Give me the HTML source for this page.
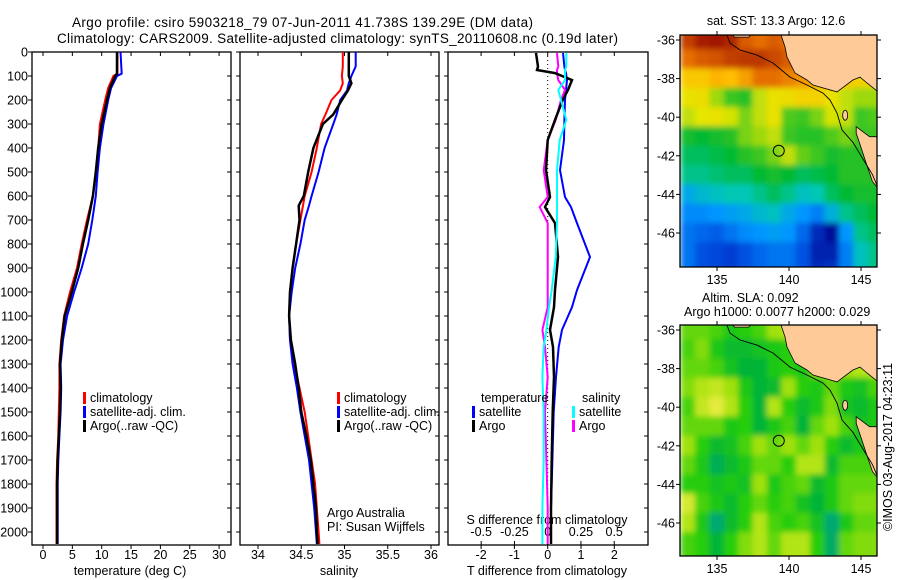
<!DOCTYPE html>
<html><head><meta charset="utf-8">
<style>
html,body{margin:0;padding:0;background:#fff;}
svg{display:block;font-family:"Liberation Sans",sans-serif;}
text{fill:#000;}
</style></head>
<body>
<svg id="fig" width="900" height="580" viewBox="0 0 900 580" xmlns="http://www.w3.org/2000/svg">
<defs>
<clipPath id="clipTop"><rect x="680" y="35" width="197" height="232"/></clipPath>
<clipPath id="clipBot"><rect x="680" y="325" width="197" height="231"/></clipPath>
<filter id="soft" x="-5%" y="-5%" width="110%" height="110%"><feGaussianBlur stdDeviation="3"/></filter>
</defs>
<text x="72" y="27" font-size="13.5" textLength="461">Argo profile: csiro 5903218_79 07-Jun-2011 41.738S 139.29E (DM data)</text>
<text x="57" y="43" font-size="13.5" textLength="561">Climatology: CARS2009. Satellite-adjusted climatology: synTS_20110608.nc (0.19d later)</text>
<g id="layer"></g>
</svg>
<script>
// ---------- profile data (depth in m) ----------
const depthsT = [0,90,100,150,200,300,400,500,600,700,800,900,1000,1100,1200,1300,1400,1500,1600,1700,1800,1900,2000,2050];
const tempClim = [12.7,12.7,12.0,11.1,10.6,9.7,9.4,9.0,8.5,7.5,6.6,5.8,4.6,3.6,3.1,2.8,2.8,2.7,2.6,2.4,2.3,2.3,2.3,2.3];
const tempSat  = [13.2,13.4,12.6,11.6,11.1,10.3,9.7,9.3,9.0,8.4,7.7,6.6,5.3,4.1,3.4,3.0,3.1,3.0,2.8,2.6,2.5,2.5,2.5,2.5];
const tempArgo = [12.6,12.6,12.3,11.4,10.9,10.0,9.4,9.0,8.5,7.7,6.8,6.0,4.9,3.7,3.2,2.9,3.0,2.9,2.7,2.5,2.4,2.4,2.4,2.4];
const depthsS = [0,60,100,130,160,200,260,300,400,500,600,640,700,800,900,1000,1100,1200,1300,1400,1500,1600,1700,1800,1900,2000,2050];
const salClim = [34.98,34.98,34.97,34.98,34.95,34.85,34.78,34.73,34.68,34.62,34.54,34.52,34.49,34.44,34.40,34.37,34.36,34.37,34.42,34.48,34.54,34.58,34.62,34.66,34.68,34.70,34.71];
const salSat  = [35.13,35.13,35.08,35.05,35.03,34.95,34.91,34.87,34.77,34.70,34.62,34.59,34.54,34.49,34.43,34.39,34.36,34.37,34.40,34.45,34.49,34.54,34.59,34.62,34.65,34.67,34.68];
const salArgo = [35.05,35.05,35.05,35.08,35.04,34.97,34.87,34.75,34.64,34.58,34.53,34.47,34.48,34.44,34.40,34.37,34.36,34.38,34.43,34.47,34.50,34.56,34.61,34.64,34.67,34.68,34.69];
const depthsD = [4,61,75,88,117,158,200,283,367,492,604,646,713,854,992,1063,1158,1229,1354,1500,1700,1900,2050];
const tdiffArgo = [-0.35,-0.29,-0.32,0.22,0.73,0.61,0.45,0.22,0.0,-0.05,0.07,-0.08,0.22,0.31,0.22,0.19,0.07,0.16,0.19,0.15,0.12,0.1,0.1];
const tdiffSat  = [0.46,0.5,0.52,0.55,0.58,0.55,0.52,0.50,0.49,0.37,0.52,0.7,0.88,1.27,0.88,0.73,0.43,0.33,0.25,0.18,0.14,0.1,0.1];
const sdiffArgo = [0.07,0.08,0.07,0.07,0.08,0.13,0.1,0.06,0.0,-0.03,0.0,-0.06,0.0,0.0,0.0,0.0,-0.04,-0.02,0.0,-0.02,-0.01,0.0,0.0];
const sdiffSat  = [0.14,0.14,0.13,0.13,0.13,0.08,0.1,0.14,0.09,0.07,0.07,0.07,0.07,0.06,0.03,0.01,-0.01,-0.03,-0.04,-0.03,-0.03,-0.04,-0.04];
const depthTicks = [0,100,200,300,400,500,600,700,800,900,1000,1100,1200,1300,1400,1500,1600,1700,1800,1900,2000];
const tempTicks = [0,5,10,15,20,25,30];
const salTicks = [34,34.5,35,35.5,36];
const salTickLabels = ["34","34.5","35","35.5","36"];
const tdTicks = [-2,-1,0,1,2];
const sdTicks = [-0.5,-0.25,0,0.25,0.5];
const sdTickLabels = ["-0.5","-0.25","0","0.25","0.5"];
// ---------- map data ----------
const mapLons = [133,134,135,136,137,138,139,140,141,142,143,144,145,146];
const mapLats = [-36,-37,-38,-39,-40,-41,-42,-43,-44,-45,-46,-47,-48];
const sstGrid = [
 [15.5,15.9,16.0,15.8,15.2,15.0,15.2,15.0,15.0,15.0,15.0,15.0,15.0,15.0],
 [15.0,15.2,15.3,15.5,15.6,15.6,15.4,15.2,14.8,14.6,14.6,14.6,14.6,14.6],
 [14.0,14.0,14.3,14.2,14.5,15.0,15.0,14.8,14.6,14.4,14.2,14.0,13.8,13.8],
 [13.5,13.6,13.0,12.5,12.4,13.2,13.5,13.6,13.8,13.8,13.5,13.2,13.0,13.0],
 [13.2,13.4,13.5,13.3,12.8,13.2,13.5,12.6,12.5,12.8,13.3,13.2,12.5,12.6],
 [12.3,12.2,12.3,12.4,12.8,13.0,13.2,12.5,12.4,12.4,12.6,12.8,12.5,12.5],
 [12.0,12.0,12.1,12.2,12.4,12.5,12.8,13.2,12.7,12.5,12.3,12.4,12.4,12.4],
 [11.8,11.8,11.9,12.0,12.0,12.2,12.3,12.2,12.0,12.1,12.2,12.4,12.4,12.4],
 [11.2,11.4,11.5,11.6,11.6,11.8,12.0,11.8,11.5,11.6,12.0,12.2,12.3,12.3],
 [10.9,10.9,11.0,11.1,11.2,11.4,11.5,11.2,11.0,10.8,11.3,11.8,12.0,12.2],
 [10.7,10.6,10.5,10.7,10.9,11.0,11.1,11.0,10.6,10.0,9.7,11.0,11.8,12.0],
 [10.7,10.4,10.3,10.2,10.4,10.6,10.7,10.7,10.4,9.9,9.9,10.8,11.5,11.8],
 [10.7,10.4,10.3,10.2,10.4,10.6,10.7,10.7,10.4,10.0,10.1,10.8,11.5,11.8]
];
const slaGrid = [
 [0.3,0.3,0.2,0.0,0.1,0.2,0.5,0.6,0.5,0.5,0.5,0.5,0.5,0.5],
 [0.2,0.4,0.0,-0.2,-0.2,-0.1,0.0,0.1,0.4,0.4,0.5,0.5,0.5,0.5],
 [0.3,0.3,0.2,-0.1,-0.3,-0.3,0.0,0.1,0.0,0.4,0.6,0.5,0.6,0.6],
 [0.4,0.6,0.7,0.5,0.0,-0.3,-0.2,0.5,0.1,0.0,0.3,0.0,-0.1,0.2],
 [0.2,0.7,0.9,0.6,0.1,-0.3,0.6,0.1,-0.2,0.0,0.4,-0.1,-0.2,0.0],
 [0.3,0.3,0.3,0.0,0.1,-0.3,0.0,0.2,-0.3,0.3,0.5,0.2,-0.1,0.0],
 [0.5,0.1,-0.2,-0.1,0.2,0.5,0.3,0.5,0.3,0.5,0.1,-0.2,0.0,0.0],
 [0.3,0.0,-0.5,-0.2,0.0,0.3,0.3,0.1,0.6,0.6,-0.2,0.2,0.2,0.2],
 [0.1,0.1,-0.1,0.0,-0.1,0.5,0.0,0.2,0.3,-0.2,0.0,0.3,0.3,0.3],
 [0.8,0.2,0.0,-0.2,0.1,0.3,0.1,0.2,-0.1,-0.3,0.0,0.3,0.4,0.4],
 [0.6,0.0,-0.7,-0.2,0.1,0.6,0.2,0.1,0.2,-0.1,-0.7,0.0,0.3,0.3],
 [0.2,0.1,-0.3,0.1,0.4,0.6,0.3,0.6,0.6,0.1,-0.6,0.3,0.4,0.4],
 [0.2,0.1,-0.3,0.1,0.4,0.6,0.3,0.6,0.6,0.1,-0.6,0.3,0.4,0.4]
];
const latTicks = [-36,-38,-40,-42,-44,-46];
const lonTicks = [135,140,145];
const mainlandLon = [139.38,139.72,139.86,140.42,141.25,141.67,143.33,144.44,144.93,145.42,146.3,146.3];
const mainlandLat = [-35.6,-36.36,-36.88,-37.71,-38.07,-38.33,-38.69,-38.07,-37.92,-38.23,-38.75,-35.6];
const tasLon = [144.67,145.6,146.3,146.3,145.8,145.36,144.9,144.67];
const tasLat = [-40.49,-41.01,-41.01,-43.77,-43.34,-42.39,-41.35,-40.84];
const bumpLon = [136.0,136.2,137.2,137.5];
const bumpLat = [-35.6,-35.85,-35.85,-35.6];
const shelfLon = [135.69,135.9,136.6,137.78,138.89,140.07,141.25,142.36,142.85,143.33,143.68,144.44,145.1,145.8,146.1];
const shelfLat = [-35.74,-36.16,-36.52,-36.78,-37.19,-37.92,-38.33,-38.75,-39.11,-39.78,-40.66,-41.3,-42.12,-42.98,-43.5];
const argoLon = 139.29, argoLat = -41.738;

const NS = "http://www.w3.org/2000/svg";
const layer = document.getElementById('layer');
function mk(tag, attrs, parent){ const e=document.createElementNS(NS,tag); for(const k in attrs) e.setAttribute(k,attrs[k]); (parent||layer).appendChild(e); return e; }
function txt(x,y,s,size,anchor,parent){ const t=mk('text',{x:x,y:y,'font-size':size||12.5,'text-anchor':anchor||'start'},parent); t.textContent=s; return t; }

const TOP=52, BOT=545;
const yD = d => TOP + d*0.24;
const xT = t => 43 + t*5.87;
const xS = s => 258 + (s-34)*86.5;
const xTd = v => 547.7 + v*33.3;
const xSd = v => 547.7 + v*133;

const panels = [[32,231,'temperature-panel'],[240,439,'salinity-panel'],[448,648,'difference-panel']];
panels.forEach(p=>{
  const r = mk('rect',{x:p[0],y:TOP,width:p[1]-p[0],height:BOT-TOP,fill:'none',stroke:'#000','stroke-width':1.3});
  
  
  depthTicks.forEach(d=>{
    mk('line',{x1:p[0]-4,x2:p[0],y1:yD(d),y2:yD(d),stroke:'#000'});
    mk('line',{x1:p[1]-4,x2:p[1],y1:yD(d),y2:yD(d),stroke:'#000'});
  });
});
depthTicks.forEach(d=>{
  const t = txt(28, yD(d)+4.5, String(d), 12.5, 'end');
  
  
});
function xticks(vals, labels, fx, ly){
  vals.forEach((v,i)=>{
    const x=fx(v);
    mk('line',{x1:x,x2:x,y1:TOP,y2:TOP+4,stroke:'#000'});
    mk('line',{x1:x,x2:x,y1:BOT,y2:BOT+4,stroke:'#000'});
    const t = txt(x, ly, labels[i], 12.5, 'middle');
    
    
  });
}
xticks(tempTicks, tempTicks.map(String), xT, 559);
xticks(salTicks, salTickLabels, xS, 559);
xticks(tdTicks, tdTicks.map(String), xTd, 559);
sdTicks.forEach((v,i)=>{
  const x=xSd(v);
  mk('line',{x1:x,x2:x,y1:BOT-4,y2:BOT,stroke:'#000'});
  const t = txt(x, 536, sdTickLabels[i], 12.5, 'middle');
  
  
});
[['temperature (deg C)',130,'temperature-axis-title'],['salinity',339,'salinity-axis-title'],['T difference from climatology',547,'t-diff-axis-title']].forEach(a=>{
  const t = txt(a[1], 575, a[0], 12.5, 'middle');
  
  
});
const sdt = txt(547, 524, 'S difference from climatology', 12.5, 'middle');


const zl = mk('line',{x1:xTd(0),x2:xTd(0),y1:TOP,y2:BOT,stroke:'#000','stroke-dasharray':'1,3'});



function series(vals, depths, fx, color, w, name){
  const pts = vals.map((v,i)=>fx(v).toFixed(1)+','+yD(depths[i]).toFixed(1)).join(' ');
  const l = mk('polyline',{points:pts,fill:'none',stroke:color,'stroke-width':w,'stroke-linejoin':'miter'});
  
  
}
series(tempClim, depthsT, xT, '#ff0000', 2, 'temp-climatology-line');
series(tempSat, depthsT, xT, '#0000ff', 2, 'temp-satellite-line');
series(tempArgo, depthsT, xT, '#000000', 2.5, 'temp-argo-line');
series(salClim, depthsS, xS, '#ff0000', 2, 'sal-climatology-line');
series(salSat, depthsS, xS, '#0000ff', 2, 'sal-satellite-line');
series(salArgo, depthsS, xS, '#000000', 2.5, 'sal-argo-line');
series(tdiffSat, depthsD, xTd, '#0000ff', 2, 'tdiff-satellite-line');
series(sdiffArgo, depthsD, xSd, '#ff00ff', 2, 'sdiff-argo-line');
series(tdiffArgo, depthsD, xTd, '#000000', 2.5, 'tdiff-argo-line');
series(sdiffSat, depthsD, xSd, '#00ffff', 2, 'sdiff-satellite-line');

function legendEntry(x,y,color,label,name){
  const g = mk('g',{});
  
  
  mk('rect',{x:x,y:y-10,width:3,height:12,fill:color},g);
  txt(x+7,y,label,12.5,'start',g);
}
legendEntry(83,402,'#ff0000','climatology','legend-temp-climatology');
legendEntry(83,416,'#0000ff','satellite-adj. clim.','legend-temp-satellite');
legendEntry(83,430,'#000000','Argo(..raw -QC)','legend-temp-argo');
legendEntry(337,402,'#ff0000','climatology','legend-sal-climatology');
legendEntry(337,416,'#0000ff','satellite-adj. clim.','legend-sal-satellite');
legendEntry(337,430,'#000000','Argo(..raw -QC)','legend-sal-argo');
const lt1 = txt(481,402,'temperature');  
const lt2 = txt(582,402,'salinity');  
legendEntry(472,416,'#0000ff','satellite','legend-tdiff-satellite');
legendEntry(472,430,'#000000','Argo','legend-tdiff-argo');
legendEntry(572,416,'#00ffff','satellite','legend-sdiff-satellite');
legendEntry(572,430,'#ff00ff','Argo','legend-sdiff-argo');
const aa = txt(327,517,'Argo Australia');  
const pi = txt(327,531,'PI: Susan Wijffels');  

// ---------- maps ----------
function lerpColor(stops, v){
  if(v<=stops[0][0]) return stops[0][1];
  for(let i=1;i<stops.length;i++){
    if(v<=stops[i][0]){
      const a=stops[i-1], b=stops[i], f=(v-a[0])/(b[0]-a[0]);
      return [0,1,2].map(k=>Math.round(a[1][k]+(b[1][k]-a[1][k])*f));
    }
  }
  return stops[stops.length-1][1];
}
const sstStops = [[9.5,[0,0,130]],[10.3,[0,70,220]],[11.0,[0,150,255]],[11.6,[0,200,180]],[12.2,[0,185,50]],[12.8,[120,210,20]],[13.4,[230,230,0]],[14.2,[255,190,0]],[15.0,[230,110,0]],[16.0,[160,20,0]]];
const slaStops = [[-0.8,[0,165,130]],[-0.3,[0,180,55]],[0.1,[40,205,15]],[0.5,[160,225,10]],[0.9,[230,235,60]]];

function drawMap(top, grid, stops, clip, name){
  const L=680, R=877, H=(name==='sst-map')?232:231;
  const mx = lon => 717 + (lon-135)*14.4;
  const my = lat => top + 5 + (-36-lat)*19.3;
  const g = mk('g',{'clip-path':'url(#'+clip+')'});
  
  
  const cells = mk('g',{filter:'url(#soft)'},g);
  grid.forEach((row,ri)=>row.forEach((v,ci)=>{
    const c = lerpColor(stops,v);
    const x0=mx(mapLons[ci]-0.5), y0=my(mapLats[ri]+0.5);
    const r = mk('rect',{x:x0-0.5,y:y0-0.5,width:14.4+1,height:19.3+1,fill:'rgb('+c.join(',')+')'},cells);
    
    
  }));
  const poly = (lons,lats,nm)=>{
    const p = mk('polygon',{points:lons.map((lo,i)=>mx(lo).toFixed(1)+','+my(lats[i]).toFixed(1)).join(' '),fill:'#fdca98',stroke:'#000','stroke-width':0.8},g);
    
    
  };
  poly(mainlandLon,mainlandLat,'land-mainland');
  poly(tasLon,tasLat,'land-tasmania');
  poly(bumpLon,bumpLat,'land-coast');
  const ki = mk('ellipse',{cx:mx(143.9),cy:my(-39.9),rx:2.5,ry:5,fill:'#fdca98',stroke:'#000','stroke-width':0.8},g);
  
  
  const sh = mk('polyline',{points:shelfLon.map((lo,i)=>mx(lo).toFixed(1)+','+my(shelfLat[i]).toFixed(1)).join(' '),fill:'none',stroke:'#000','stroke-width':0.9},g);
  
  
  const pt = mk('circle',{cx:mx(argoLon),cy:my(argoLat),r:5.5,fill:'none',stroke:'#000','stroke-width':1},g);
  
  
  const fr = mk('rect',{x:L,y:top,width:R-L,height:H,fill:'none',stroke:'#000','stroke-width':1.3});
  
  
  latTicks.forEach(lt=>{
    const y=my(lt);
    mk('line',{x1:L-4,x2:L,y1:y,y2:y,stroke:'#000'});
    mk('line',{x1:R,x2:R+4,y1:y,y2:y,stroke:'#000'});
    const t = txt(675,y+4.5,String(lt),12.5,'end');
    
    
  });
  lonTicks.forEach(lo=>{
    const x=mx(lo);
    mk('line',{x1:x,x2:x,y1:top-4,y2:top,stroke:'#000'});
    mk('line',{x1:x,x2:x,y1:top+H,y2:top+H+4,stroke:'#000'});
    const t = txt(x,top+H+17,String(lo),12.5,'middle');
    
    
  });
}
drawMap(35, sstGrid, sstStops, 'clipTop', 'sst-map');
drawMap(325, slaGrid, slaStops, 'clipBot', 'sla-map');
const mt = txt(776,25,'sat. SST: 13.3 Argo: 12.6',12.5,'middle');  
const st1 = txt(702,302,'Altim. SLA: 0.092',12.5,'start');  
const st2 = txt(684,316,'Argo h1000: 0.0077 h2000: 0.029',12.5,'start');  
const cp = txt(0,0,'©IMOS 03-Aug-2017 04:23:11',12.5,'middle');
cp.setAttribute('transform','translate(892,447) rotate(-90)');


</script>
</body></html>
